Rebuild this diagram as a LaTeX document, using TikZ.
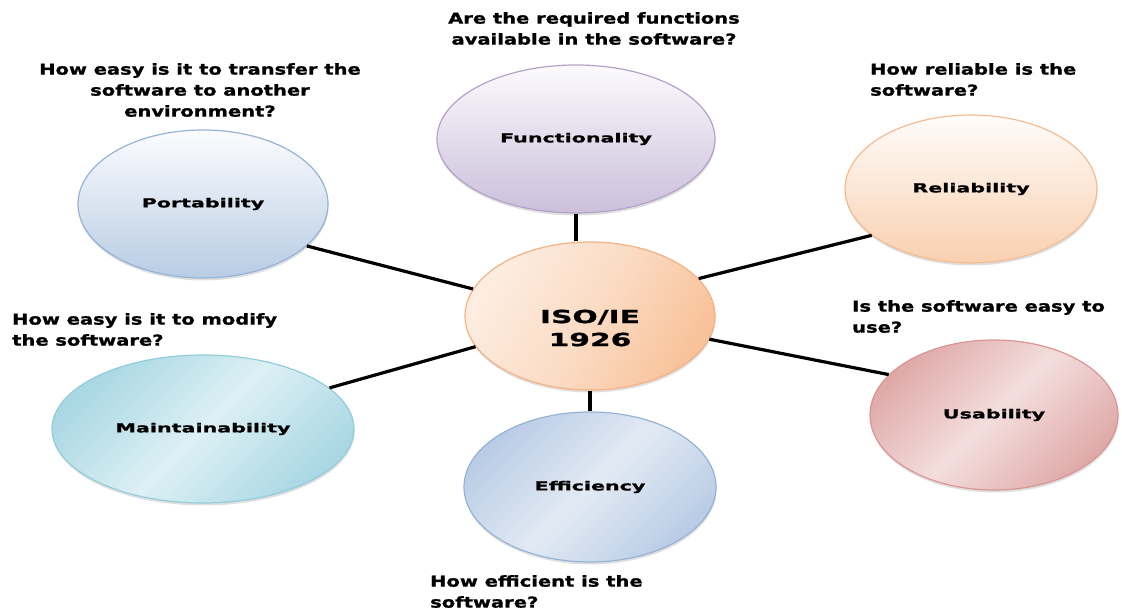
\documentclass[tikz,border=0pt]{standalone}
\usepackage{fontspec}
\newfontfamily\qfont{DejaVu Sans Bold}[FakeStretch=1.3,FakeBold=1.2]
\newfontfamily\lfont{DejaVu Sans Bold}[FakeStretch=1.65,FakeBold=1.2]
\usetikzlibrary{shapes.geometric,shadows}
\definecolor{funcA}{HTML}{FBFAFD}
\definecolor{funcB}{HTML}{CBBFDB}
\definecolor{funcD}{HTML}{B3A2C8}
\definecolor{portA}{HTML}{FBFCFE}
\definecolor{portB}{HTML}{B8CCE4}
\definecolor{portD}{HTML}{95B3D7}
\definecolor{relA}{HTML}{FFFCFA}
\definecolor{relB}{HTML}{F9D0B0}
\definecolor{relD}{HTML}{F4BC92}
\definecolor{isoA}{HTML}{F8C29A}
\definecolor{isoB}{HTML}{FDEDE1}
\definecolor{isoD}{HTML}{F4B183}
\definecolor{effA}{HTML}{B9CCE5}
\definecolor{effB}{HTML}{E2EAF4}
\definecolor{effD}{HTML}{95B3D7}
\definecolor{maiA}{HTML}{A9D7E3}
\definecolor{maiB}{HTML}{DDF0F5}
\definecolor{maiD}{HTML}{92CDDC}
\definecolor{usaA}{HTML}{DFA9A8}
\definecolor{usaB}{HTML}{F3DEDD}
\definecolor{usaD}{HTML}{D99694}
\tikzset{
  bubble/.style={ellipse, line width=1.2pt, inner sep=0pt,
    font=\lfont\fontsize{12.5}{15}\selectfont,
    drop shadow={shadow xshift=0.5pt, shadow yshift=-2.5pt, opacity=0.25}},
  vgrad/.style 2 args={top color=#1, bottom color=#2},
  dgrad/.style 2 args={left color=#1, right color=#1, middle color=#2, shading angle=45},
  question/.style={inner sep=0pt, font=\qfont\fontsize{15}{21}\selectfont},
  conn/.style={line width=3.2pt, black}
}
\begin{document}
\begin{tikzpicture}[x=1pt,y=-1pt]
\useasboundingbox (0,0) rectangle (1122,609);
% bubbles
\node[bubble, draw=funcD, vgrad={funcA}{funcB}, minimum width=278pt, minimum height=148pt] (func) at (576,139) {Functionality};
\node[bubble, draw=portD, vgrad={portA}{portB}, minimum width=250pt, minimum height=148pt] (port) at (203,204) {Portability};
\node[bubble, draw=relD, vgrad={relA}{relB}, minimum width=252pt, minimum height=148pt] (rel) at (971,189) {Reliability};
\node[bubble, draw=maiD, dgrad={maiA}{maiB}, minimum width=302pt, minimum height=148pt] (mai) at (203,429) {Maintainability};
\node[bubble, draw=isoD, left color=isoB, right color=isoA, middle color=isoB!60!isoA, shading angle=60, minimum width=250pt, minimum height=148pt] (iso) at (590,316) {};
\node[inner sep=0pt, align=center, font=\lfont\fontsize{18}{23}\selectfont] (isotext) at (590,328) {ISO/IE\\1926};
\node[bubble, draw=effD, dgrad={effA}{effB}, minimum width=252pt, minimum height=150pt] (eff) at (590,487) {Efficiency};
\node[bubble, draw=usaD, dgrad={usaA}{usaB}, minimum width=248pt, minimum height=150pt] (usa) at (994,415) {Usability};
% connectors
\draw[conn] (func.south) -- (func.south |- iso.north);
\draw[conn] (iso.south) -- (eff.north);
\draw[conn] (port.338) -- (iso.167);
\draw[conn] (rel.205) -- (iso.19);
\draw[conn] (mai.18) -- (iso.195);
\draw[conn] (usa.159) -- (iso.349);
% questions
\node[question, anchor=north, align=center] (qfunc) at (594,12) {Are the required functions\\available in the software?};
\node[question, anchor=north, align=center] (qport) at (200,63) {How easy is it to transfer the\\software to another\\environment?};
\node[question, anchor=north west, align=left] (qrel) at (870,63) {How reliable is the\\software?};
\node[question, anchor=north west, align=left] (qmai) at (12,313) {How easy is it to modify\\the software?};
\node[question, anchor=north west, align=left] (qusa) at (852,300) {Is the software easy to\\use?};
\node[question, anchor=north west, align=left] (qeff) at (430,575) {How efficient is the\\software?};
\end{tikzpicture}
\end{document}
